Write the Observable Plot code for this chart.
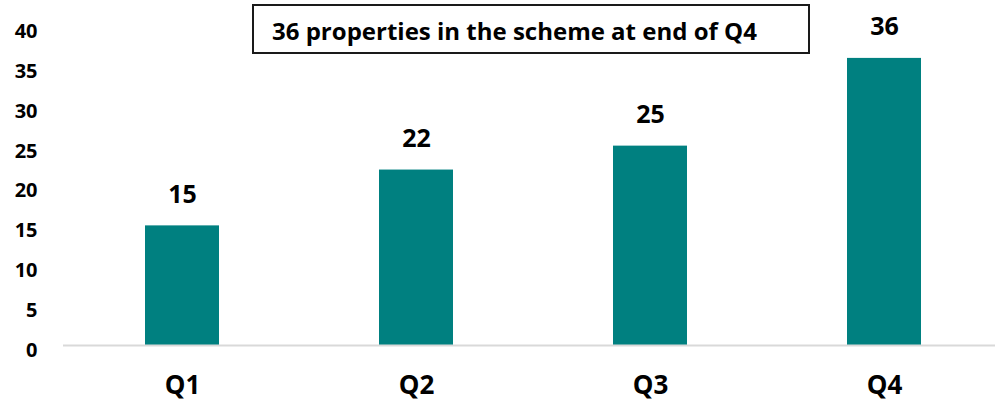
<!DOCTYPE html>
<html>
<head>
<meta charset="utf-8">
<script src="https://cdn.jsdelivr.net/npm/d3@7"></script>
<script src="https://cdn.jsdelivr.net/npm/@observablehq/plot@0.6"></script>
<style>
  html, body { margin: 0; padding: 0; background: #fff; }
  #wrap { position: relative; width: 995px; height: 401px; font-family: "Open Sans", Lato, sans-serif; }
  #note {
    position: absolute; left: 252px; top: 4px;
    border: 2px solid #1a1a1a; box-sizing: border-box;
    width: 558px; height: 50px; padding-left: 18px; padding-top: 3px;
    font-weight: bold; font-size: 24px; color: #000;
    display: flex; align-items: center; white-space: nowrap;
  }
</style>
</head>
<body>
<div id="wrap"><div id="note"></div></div>
<script>
const quarters = ["Q1", "Q2", "Q3", "Q4"];
const properties = [15, 22, 25, 36];
const yTicks = [0, 5, 10, 15, 20, 25, 30, 35, 40];
const noteText = "36 properties in the scheme at end of Q4";

const data = quarters.map((q, i) => ({quarter: q, value: properties[i]}));

const chart = Plot.plot({
  width: 995,
  height: 401,
  marginLeft: 63,
  marginRight: 0,
  marginTop: 26,
  marginBottom: 56,
  style: {fontFamily: "'Open Sans', Lato, sans-serif", color: "#000", background: "#fff"},
  x: {domain: quarters, range: [63, 1002], paddingInner: 0.685, paddingOuter: 0.3425, label: null},
  y: {domain: [0, 40], label: null},
  marks: [
    Plot.barY(data, {x: "quarter", y: "value", fill: "#008080"}),
    Plot.ruleY([0], {stroke: "#d9d9d9", strokeWidth: 2}),
    Plot.text(data, {x: "quarter", y: "value", text: d => String(d.value), dy: -31, fontSize: 25, fontWeight: "bold", fill: "#000"}),
    Plot.axisY({ticks: yTicks, tickSize: 0, tickPadding: 0, dx: -26, dy: 5, textAnchor: "end", fontSize: 20, fontWeight: "bold", label: null, anchor: "left", tickFormat: d => String(d)}),
    Plot.axisX({tickSize: 0, tickPadding: 0, dy: 30, fontSize: 26, fontWeight: "bold", label: null})
  ]
});
document.getElementById("wrap").prepend(chart);
const note = document.getElementById("note");
note.textContent = noteText;
</script>
</body>
</html>
